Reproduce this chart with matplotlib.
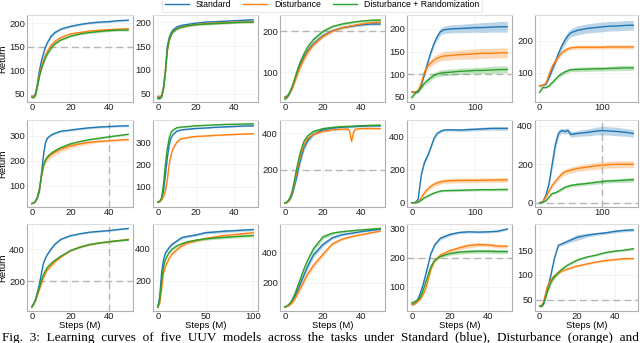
import matplotlib
matplotlib.use("Agg")
import matplotlib.pyplot as plt

plt.rcParams['font.family'] = ['Liberation Sans', 'DejaVu Sans']

# ---------------- data ----------------
series_names = ["Standard", "Disturbance", "Disturbance + Randomization"]
series_colors = ["#1f77b4", "#ff7f0e", "#2ca02c"]

steps_50 = [0, 1, 2, 3, 4, 5, 6, 7, 8, 10, 12, 15, 20, 25, 30, 35, 40, 45, 50]
steps_100 = [0, 2, 4, 6, 8, 10, 12, 15, 20, 25, 30, 40, 50, 60, 70, 80, 90, 100]
steps_150 = [0, 5, 10, 15, 20, 25, 30, 35, 40, 45, 50, 60, 75, 90, 100, 110, 125, 140, 150]
steps_23 = [0, 1, 2, 3, 4, 5, 6, 7, 8, 10, 12, 15, 20, 25, 30, 33, 34, 35, 36, 37, 40, 45, 50]

# row 1
p11_std = [45, 45, 52, 75, 100, 120, 135, 148, 158, 172, 180, 187, 193, 197, 200, 202, 203, 205, 206]
p11_dist = [45, 44, 50, 70, 92, 108, 120, 131, 140, 153, 161, 169, 177, 180, 183, 185, 186, 187, 188]
p11_rand = [43, 42, 48, 67, 88, 103, 115, 126, 134, 147, 156, 164, 172, 177, 180, 182, 184, 185, 185]
p11_band = [2, 2, 2, 3, 3, 3, 3, 3, 3, 3, 3, 2, 2, 2, 2, 2, 2, 2, 2]

p12_std = [42, 42, 45, 65, 100, 150, 168, 178, 184, 190, 193, 195, 198, 200, 201, 202, 203, 204, 205]
p12_dist = [45, 45, 46, 62, 95, 140, 162, 173, 180, 186, 189, 192, 195, 197, 198, 199, 200, 200, 201]
p12_rand = [40, 40, 43, 60, 95, 142, 163, 174, 180, 186, 189, 192, 195, 196, 197, 198, 199, 200, 200]
p12_band = [2, 2, 2, 3, 3, 3, 3, 2, 2, 2, 2, 2, 2, 2, 2, 2, 2, 2, 2]

p13_std = [40, 42, 47, 55, 65, 78, 92, 105, 117, 137, 153, 170, 190, 202, 209, 213, 216, 218, 218]
p13_dist = [38, 40, 45, 53, 62, 75, 88, 101, 113, 133, 150, 168, 188, 201, 209, 214, 218, 221, 223]
p13_rand = [35, 38, 45, 55, 68, 82, 97, 111, 124, 145, 162, 180, 200, 212, 218, 222, 225, 227, 228]
p13_band = [2, 2, 3, 3, 4, 5, 6, 6, 6, 6, 6, 5, 4, 3, 3, 3, 3, 3, 3]

p14_std = [60, 60, 60, 75, 100, 125, 148, 168, 183, 194, 198, 200, 201, 202, 203, 203, 204, 205, 205]
p14_dist = [60, 60, 63, 80, 105, 117, 125, 131, 135, 138, 140, 141, 143, 144, 145, 146, 146, 147, 147]
p14_rand = [48, 57, 63, 70, 80, 86, 92, 97, 100, 102, 103, 104, 106, 107, 108, 108, 109, 110, 110]
p14_std_band = [2, 2, 2, 3, 4, 5, 6, 6, 7, 8, 8, 9, 9, 10, 10, 11, 11, 12, 12]
p14_dist_band = [2, 2, 3, 5, 7, 8, 8, 9, 9, 9, 10, 10, 10, 11, 11, 11, 11, 11, 11]
p14_rand_band = [3, 3, 3, 4, 5, 6, 6, 6, 6, 7, 7, 7, 7, 7, 7, 7, 8, 8, 8]

p15_std = [60, 62, 65, 85, 110, 135, 160, 182, 200, 215, 225, 232, 238, 241, 243, 245, 246, 248, 248]
p15_dist = [60, 62, 68, 95, 120, 137, 150, 162, 170, 175, 178, 180, 180, 180, 180, 181, 181, 181, 181]
p15_rand = [40, 55, 55, 60, 70, 80, 90, 97, 103, 107, 110, 111, 112, 113, 113, 114, 115, 116, 116]
p15_std_band = [3, 3, 3, 5, 8, 10, 12, 12, 12, 13, 13, 14, 14, 15, 15, 15, 15, 15, 15]
p15_dist_band = [2, 2, 3, 6, 8, 8, 7, 6, 6, 6, 6, 6, 6, 6, 6, 6, 6, 6, 6]
p15_rand_band = [3, 3, 3, 3, 4, 5, 6, 6, 6, 6, 6, 7, 7, 7, 7, 7, 8, 8, 8]

# row 2
p21_std = [30, 32, 40, 55, 80, 150, 220, 270, 290, 303, 310, 318, 323, 328, 332, 335, 337, 339, 340]
p21_dist = [30, 32, 40, 58, 90, 140, 180, 200, 212, 225, 235, 247, 260, 268, 274, 278, 280, 283, 285]
p21_rand = [30, 32, 40, 58, 90, 140, 180, 202, 215, 230, 240, 253, 268, 277, 285, 290, 296, 301, 306]
p21_std_band = [1, 1, 2, 3, 4, 6, 6, 5, 4, 4, 4, 4, 4, 4, 4, 4, 4, 4, 4]
p21_dist_band = [1, 1, 2, 3, 6, 10, 13, 14, 14, 13, 12, 11, 10, 8, 6, 5, 4, 4, 4]
p21_rand_band = [1, 1, 2, 3, 4, 5, 5, 5, 5, 4, 4, 4, 3, 3, 3, 3, 3, 3, 3]

p22_std = [30, 32, 45, 80, 150, 230, 290, 320, 335, 350, 355, 358, 362, 364, 367, 369, 371, 373, 374]
p22_dist = [30, 31, 40, 55, 80, 130, 200, 245, 270, 300, 315, 320, 326, 328, 331, 333, 335, 337, 338]
p22_rand = [30, 34, 50, 110, 200, 270, 320, 345, 355, 365, 368, 370, 374, 376, 378, 380, 381, 382, 383]
p22_band = [2, 2, 3, 5, 6, 6, 5, 4, 3, 3, 3, 3, 3, 3, 3, 3, 3, 3, 3]

p23_std = [20, 22, 30, 45, 70, 110, 150, 200, 245, 320, 360, 395, 418, 428, 433, 435, 435, 436, 436, 437, 438, 440, 440]
p23_dist = [20, 22, 32, 50, 80, 125, 175, 225, 270, 335, 370, 395, 410, 418, 422, 423, 410, 355, 405, 422, 425, 426, 425]
p23_rand = [20, 24, 36, 55, 90, 140, 195, 245, 290, 355, 385, 410, 425, 432, 436, 437, 438, 438, 439, 439, 441, 443, 444]
p23_std_band = [3, 3, 4, 6, 8, 12, 15, 18, 18, 18, 15, 10, 6, 5, 5, 5, 5, 5, 5, 5, 5, 5, 5]
p23_dist_band = [3, 3, 4, 5, 6, 8, 10, 10, 10, 10, 8, 6, 5, 4, 4, 4, 4, 4, 4, 4, 4, 4, 4]
p23_rand_band = [3, 3, 4, 6, 8, 10, 12, 12, 12, 10, 8, 6, 5, 4, 4, 4, 4, 4, 4, 4, 4, 4, 4]

p24_std = [0, 0, 20, 170, 245, 285, 335, 390, 420, 432, 440, 442, 440, 443, 445, 447, 450, 450, 450]
p24_dist = [0, 0, 3, 30, 60, 82, 100, 112, 120, 126, 130, 133, 135, 135, 135, 136, 137, 138, 138]
p24_rand = [0, 0, 2, 15, 30, 40, 50, 58, 65, 70, 73, 74, 75, 77, 78, 79, 79, 80, 80]
p24_std_band = [0, 0, 3, 10, 12, 12, 10, 8, 8, 8, 8, 8, 8, 10, 10, 10, 10, 12, 12]
p24_dist_band = [0, 0, 2, 6, 10, 12, 14, 14, 14, 14, 14, 14, 14, 14, 14, 14, 14, 14, 14]
p24_rand_band = [0, 0, 1, 3, 4, 5, 6, 6, 6, 6, 6, 7, 7, 7, 7, 7, 7, 8, 8]

p25_std = [0, 5, 40, 100, 200, 300, 360, 375, 370, 375, 355, 360, 365, 372, 375, 373, 370, 365, 360]
p25_dist = [0, 5, 30, 60, 90, 110, 130, 148, 160, 165, 170, 178, 185, 192, 195, 198, 200, 200, 200]
p25_rand = [0, 2, 10, 30, 48, 52, 60, 70, 80, 85, 90, 95, 100, 106, 110, 113, 115, 118, 120]
p25_std_band = [0, 3, 8, 15, 25, 30, 20, 12, 15, 15, 15, 15, 18, 20, 22, 22, 22, 20, 20]
p25_dist_band = [0, 2, 5, 10, 12, 12, 14, 15, 15, 15, 15, 16, 16, 18, 18, 18, 18, 18, 18]
p25_rand_band = [0, 1, 3, 5, 6, 6, 7, 8, 8, 8, 8, 9, 9, 10, 10, 10, 10, 12, 12]

# row 3
p31_std = [40, 60, 90, 135, 185, 250, 310, 340, 365, 400, 430, 460, 483, 495, 505, 510, 515, 522, 528]
p31_dist = [40, 55, 80, 115, 150, 185, 220, 245, 270, 295, 320, 350, 390, 412, 428, 438, 446, 453, 460]
p31_rand = [40, 58, 85, 125, 165, 205, 240, 262, 285, 310, 330, 355, 390, 412, 428, 438, 445, 452, 457]
p31_band = [3, 4, 5, 6, 7, 7, 7, 6, 6, 6, 5, 5, 5, 5, 5, 5, 5, 5, 5]

p32_std = [40, 100, 250, 330, 370, 388, 405, 425, 445, 465, 472, 482, 496, 500, 505, 508, 512, 515]
p32_dist = [40, 60, 150, 250, 290, 314, 340, 365, 392, 415, 430, 447, 460, 470, 478, 484, 490, 495]
p32_rand = [40, 80, 200, 290, 330, 355, 375, 395, 415, 428, 438, 450, 458, 463, 467, 471, 475, 478]
p32_band = [3, 6, 10, 10, 9, 8, 8, 8, 8, 8, 8, 8, 8, 8, 8, 8, 8, 8]

p33_std = [40, 44, 50, 62, 80, 105, 130, 160, 190, 250, 310, 385, 455, 500, 520, 530, 540, 548, 556]
p33_dist = [40, 43, 48, 58, 70, 88, 110, 135, 160, 210, 260, 315, 390, 460, 490, 508, 520, 532, 544]
p33_rand = [40, 46, 55, 70, 90, 118, 150, 185, 220, 290, 350, 425, 505, 530, 540, 546, 552, 557, 562]
p33_band = [3, 3, 4, 5, 6, 8, 10, 12, 14, 16, 18, 18, 14, 10, 8, 6, 5, 5, 5]

p34_std = [40, 42, 45, 55, 70, 88, 110, 135, 160, 215, 245, 268, 281, 288, 290, 289, 290, 292, 300]
p34_dist = [40, 41, 45, 50, 55, 63, 75, 90, 110, 160, 190, 210, 225, 235, 243, 246, 245, 241, 240]
p34_rand = [45, 46, 50, 55, 60, 72, 90, 110, 130, 170, 192, 205, 215, 220, 222, 223, 223, 222, 222]
p34_std_band = [3, 3, 3, 4, 5, 6, 6, 6, 6, 6, 6, 6, 5, 4, 4, 4, 4, 4, 4]
p34_dist_band = [3, 3, 3, 4, 4, 5, 5, 5, 5, 5, 5, 5, 6, 7, 8, 7, 6, 6, 6]
p34_rand_band = [10, 10, 8, 6, 5, 5, 5, 5, 5, 5, 5, 5, 6, 7, 7, 7, 7, 7, 7]

p35_std = [37, 37, 40, 55, 70, 85, 100, 118, 135, 160, 163, 168, 176, 180, 183, 185, 188, 190, 191]
p35_dist = [37, 37, 45, 60, 75, 83, 90, 95, 98, 104, 108, 112, 118, 122, 126, 129, 131, 133, 133]
p35_rand = [37, 37, 42, 52, 65, 75, 85, 92, 97, 105, 112, 120, 130, 136, 140, 145, 148, 150, 153]
p35_std_band = [2, 2, 2, 3, 3, 3, 3, 3, 3, 3, 3, 4, 6, 4, 3, 3, 3, 3, 3]
p35_dist_band = [2, 2, 2, 3, 4, 5, 5, 5, 4, 3, 2, 2, 2, 2, 2, 2, 2, 2, 2]
p35_rand_band = [2, 2, 2, 3, 4, 4, 5, 5, 5, 4, 3, 2, 2, 2, 2, 2, 2, 2, 2]

# reference lines (horizontal, vertical) and ticks for each panel
panels = [
    # row 1
    dict(steps=steps_50, ys=[p11_std, p11_dist, p11_rand], bands=[p11_band, p11_band, p11_band],
         hl=[150], vl=[], yt=[50, 100, 150, 200], xt=[0, 20, 40], yl=(33, 217)),
    dict(steps=steps_50, ys=[p12_std, p12_dist, p12_rand], bands=[p12_band, p12_band, p12_band],
         hl=[], vl=[], yt=[50, 100, 150, 200], xt=[0, 20, 40], yl=(33, 215)),
    dict(steps=steps_50, ys=[p13_std, p13_dist, p13_rand], bands=[p13_band, p13_band, p13_band],
         hl=[200], vl=[], yt=[100, 200], xt=[0, 20, 40], yl=(28, 240)),
    dict(steps=steps_150, ys=[p14_std, p14_dist, p14_rand], bands=[p14_std_band, p14_dist_band, p14_rand_band],
         hl=[100], vl=[], yt=[50, 100, 150, 200], xt=[0, 100], yl=(38, 231)),
    dict(steps=steps_150, ys=[p15_std, p15_dist, p15_rand], bands=[p15_std_band, p15_dist_band, p15_rand_band],
         hl=[], vl=[], yt=[100, 200], xt=[0, 100], yl=(10, 280)),
    # row 2
    dict(steps=steps_50, ys=[p21_std, p21_dist, p21_rand], bands=[p21_std_band, p21_dist_band, p21_rand_band],
         hl=[], vl=[40], yt=[100, 200, 300], xt=[0, 20, 40], yl=(16, 363)),
    dict(steps=steps_50, ys=[p22_std, p22_dist, p22_rand], bands=[p22_band, p22_band, p22_band],
         hl=[], vl=[], yt=[100, 200, 300], xt=[0, 20, 40], yl=(8, 400)),
    dict(steps=steps_23, ys=[p23_std, p23_dist, p23_rand], bands=[p23_std_band, p23_dist_band, p23_rand_band],
         hl=[200], vl=[], yt=[200, 400], xt=[0, 20, 40], yl=(-2, 472)),
    dict(steps=steps_150, ys=[p24_std, p24_dist, p24_rand], bands=[p24_std_band, p24_dist_band, p24_rand_band],
         hl=[], vl=[], yt=[0, 200, 400], xt=[0, 100], yl=(-26, 501)),
    dict(steps=steps_150, ys=[p25_std, p25_dist, p25_rand], bands=[p25_std_band, p25_dist_band, p25_rand_band],
         hl=[0], vl=[100], yt=[0, 200, 400], xt=[0, 100], yl=(-22, 430)),
    # row 3
    dict(steps=steps_50, ys=[p31_std, p31_dist, p31_rand], bands=[p31_band, p31_band, p31_band],
         hl=[200], vl=[40], yt=[200, 400], xt=[0, 20, 40], yl=(14, 556)),
    dict(steps=steps_100, ys=[p32_std, p32_dist, p32_rand], bands=[p32_band, p32_band, p32_band],
         hl=[], vl=[], yt=[200, 400], xt=[0, 50, 100], yl=(16, 549)),
    dict(steps=steps_50, ys=[p33_std, p33_dist, p33_rand], bands=[p33_band, p33_band, p33_band],
         hl=[], vl=[], yt=[200, 400], xt=[0, 20, 40], yl=(13, 591)),
    dict(steps=steps_50, ys=[p34_std, p34_dist, p34_rand], bands=[p34_std_band, p34_dist_band, p34_rand_band],
         hl=[200], vl=[], yt=[100, 200, 300], xt=[0, 20, 40], yl=(17, 317)),
    dict(steps=steps_50, ys=[p35_std, p35_dist, p35_rand], bands=[p35_std_band, p35_dist_band, p35_rand_band],
         hl=[50], vl=[], yt=[50, 100, 150], xt=[0, 20, 40], yl=(27, 203)),
]

caption_words = ["Fig.", "3:", "Learning", "curves", "of", "five", "UUV", "models", "across", "the",
                 "tasks", "under", "Standard", "(blue),", "Disturbance", "(orange)", "and",
                 "Disturbance", "+", "Randomization", "(green)."]

# ---------------- layout ----------------
W, H = 640, 343
fig = plt.figure(figsize=(W / 100, H / 100), dpi=100)

col_px = [(27, 133), (153, 258), (280, 385), (407, 512), (535, 638)]
row_px = [(15, 102), (120, 207), (224, 311)]

handles = []
for i, p in enumerate(panels):
    r, c = divmod(i, 5)
    x0, x1 = col_px[c]
    yt0, yb0 = row_px[r]
    ax = fig.add_axes([x0 / W, 1 - yb0 / H, (x1 - x0) / W, (yb0 - yt0) / H])
    ax.set_facecolor("white")
    for side, sp in ax.spines.items():
        sp.set_color("#dddddd" if side == "top" else "#b0b0b0")
        sp.set_linewidth(0.8)
    ax.grid(True, color="#f2f2f2", linewidth=0.6)
    ax.set_axisbelow(True)
    xmax = p["steps"][-1]
    ax.set_xlim(-0.05 * xmax, 1.05 * xmax)
    ax.set_ylim(*p["yl"])
    for hv in p["hl"]:
        ax.axhline(hv, color="#b5b5b5", linestyle=(0, (5, 3)), linewidth=1.0, zorder=1)
    for vv in p["vl"]:
        ax.axvline(vv, color="#b5b5b5", linestyle=(0, (5, 3)), linewidth=1.0, zorder=1)
    for k in range(3):
        y = p["ys"][k]
        b = p["bands"][k]
        lo = [a - d for a, d in zip(y, b)]
        hi = [a + d for a, d in zip(y, b)]
        ax.fill_between(p["steps"], lo, hi, color=series_colors[k], alpha=0.3, linewidth=0, zorder=2)
        ln, = ax.plot(p["steps"], y, color=series_colors[k], linewidth=1.0, zorder=3,
                      label=series_names[k])
        if i == 0:
            handles.append(ln)
    ax.set_xticks(p["xt"])
    ax.set_yticks(p["yt"])
    ax.tick_params(axis="both", length=0, labelsize=6.8, colors="#222222")
    ax.tick_params(axis="y", pad=1.5)
    ax.tick_params(axis="x", pad=1.0)
    if c == 0:
        ax.set_ylabel("Return", fontsize=6.8, labelpad=1)
    if r == 2:
        ax.set_xlabel("Steps (M)", fontsize=6.8, labelpad=0)

leg = fig.legend(handles=handles, labels=series_names, loc="lower center",
                 bbox_to_anchor=(322 / W, 1 - 12 / H), ncol=3, fontsize=6.3,
                 frameon=True, handlelength=2.7, columnspacing=1.4, handletextpad=0.8,
                 borderpad=0.3, borderaxespad=0, fancybox=False)
leg.get_frame().set_edgecolor("#e6e6e6")
leg.get_frame().set_linewidth(0.8)

fig.text(2 / W, 1 - 338 / H, "  ".join(caption_words), fontsize=9.5,
         family=["Liberation Serif"], va="center", ha="left")

fig.savefig("out.png", dpi=100)
